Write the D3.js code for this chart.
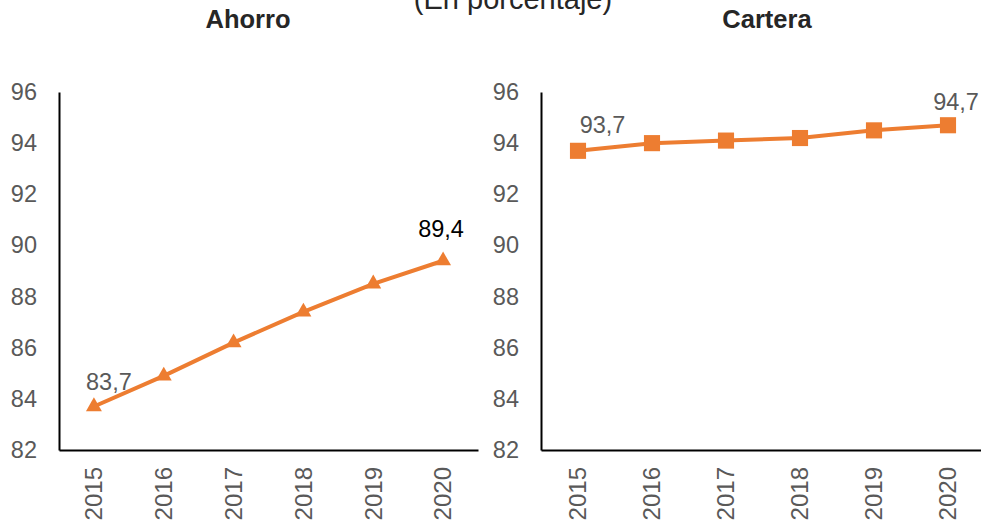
<!DOCTYPE html>
<html>
<head>
<meta charset="utf-8">
<script src="https://cdn.jsdelivr.net/npm/d3@7"></script>
<style>
  html, body { margin: 0; padding: 0; background: #fff; }
  svg { display: block; font-family: "Liberation Sans", Arial, sans-serif; }
</style>
</head>
<body>
<svg id="chart" width="981" height="523"></svg>
<script>
// ---- Data ----
const years = ["2015", "2016", "2017", "2018", "2019", "2020"];
const ahorro = [83.7, 84.9, 86.2, 87.4, 88.5, 89.4];
const cartera = [93.7, 94.0, 94.1, 94.2, 94.5, 94.7];
const yTicks = [82, 84, 86, 88, 90, 92, 94, 96];
const chartTitle = "(En porcentaje)";
const panelTitles = ["Ahorro", "Cartera"];

// ---- Layout ----
const svg = d3.select("#chart");
const orange = "#ED7D31";
const fmt = v => d3.format(".1f")(v).replace(".", ",");

svg.append("text")
  .attr("x", 513).attr("y", 9)
  .attr("text-anchor", "middle")
  .attr("font-size", 29)
  .attr("fill", "#262626")
  .text(chartTitle);

const panels = [
  { title: panelTitles[0], values: ahorro, x0: 59, x1: 478, titleX: 248, marker: d3.symbolTriangle, markerSize: 110,
    labels: [ { i: 0, dx: 15, dy: -16.5, color: "#595959" }, { i: 5, dx: -2, dy: -23.5, color: "#000000" } ] },
  { title: panelTitles[1], values: cartera, x0: 541, x1: 985, titleX: 767, marker: d3.symbolSquare, markerSize: 260,
    labels: [ { i: 0, dx: 24.5, dy: -18, color: "#595959" }, { i: 5, dx: 8, dy: -15, color: "#595959" } ] }
];

const yTop = 92, yBottom = 450;
const y = d3.scaleLinear().domain([82, 96]).range([yBottom, yTop]);

panels.forEach(p => {
  const g = svg.append("g");
  const x = d3.scaleBand().domain(years).range([p.x0, p.x1]).padding(0);
  const cx = d => x(d) + x.bandwidth() / 2;

  // panel title
  g.append("text")
    .attr("x", p.titleX).attr("y", 28)
    .attr("text-anchor", "middle")
    .attr("font-size", 25.5).attr("font-weight", "bold")
    .attr("fill", "#262626")
    .text(p.title);

  // y axis
  const yAxis = d3.axisLeft(y).tickValues(yTicks).tickSize(0).tickPadding(22).tickFormat(d3.format("d"));
  const ya = g.append("g").attr("transform", `translate(${p.x0},0)`).call(yAxis);
  ya.select(".domain").attr("stroke", "#000").attr("stroke-width", 2);
  ya.selectAll("text").attr("font-size", 23.5).attr("fill", "#595959")
    .attr("font-family", "'Liberation Sans', Arial, sans-serif");

  // x axis
  const xAxis = d3.axisBottom(x).tickSize(0).tickPadding(0);
  const xa = g.append("g").attr("transform", `translate(0,${yBottom})`).call(xAxis);
  xa.select(".domain").attr("stroke", "#000").attr("stroke-width", 2);
  xa.selectAll("text")
    .attr("font-size", 24).attr("fill", "#595959")
    .attr("font-family", "'Liberation Sans', Arial, sans-serif")
    .attr("text-anchor", "end")
    .attr("dy", "0.35em")
    .attr("transform", "translate(0,17) rotate(-90)");

  // line
  const data = years.map((yr, i) => ({ yr, v: p.values[i] }));
  g.append("path")
    .datum(data)
    .attr("fill", "none")
    .attr("stroke", orange)
    .attr("stroke-width", 4)
    .attr("d", d3.line().x(d => cx(d.yr)).y(d => y(d.v)));

  // markers
  g.selectAll(".mk").data(data).join("path")
    .attr("class", "mk")
    .attr("transform", d => `translate(${cx(d.yr)},${y(d.v)})`)
    .attr("d", d3.symbol().type(p.marker).size(p.markerSize))
    .attr("fill", orange);

  // data labels
  p.labels.forEach(l => {
    g.append("text")
      .attr("x", cx(years[l.i]) + l.dx)
      .attr("y", y(p.values[l.i]) + l.dy)
      .attr("text-anchor", "middle")
      .attr("font-size", 23.5)
      .attr("fill", l.color)
      .text(fmt(p.values[l.i]));
  });
});
</script>
</body>
</html>
